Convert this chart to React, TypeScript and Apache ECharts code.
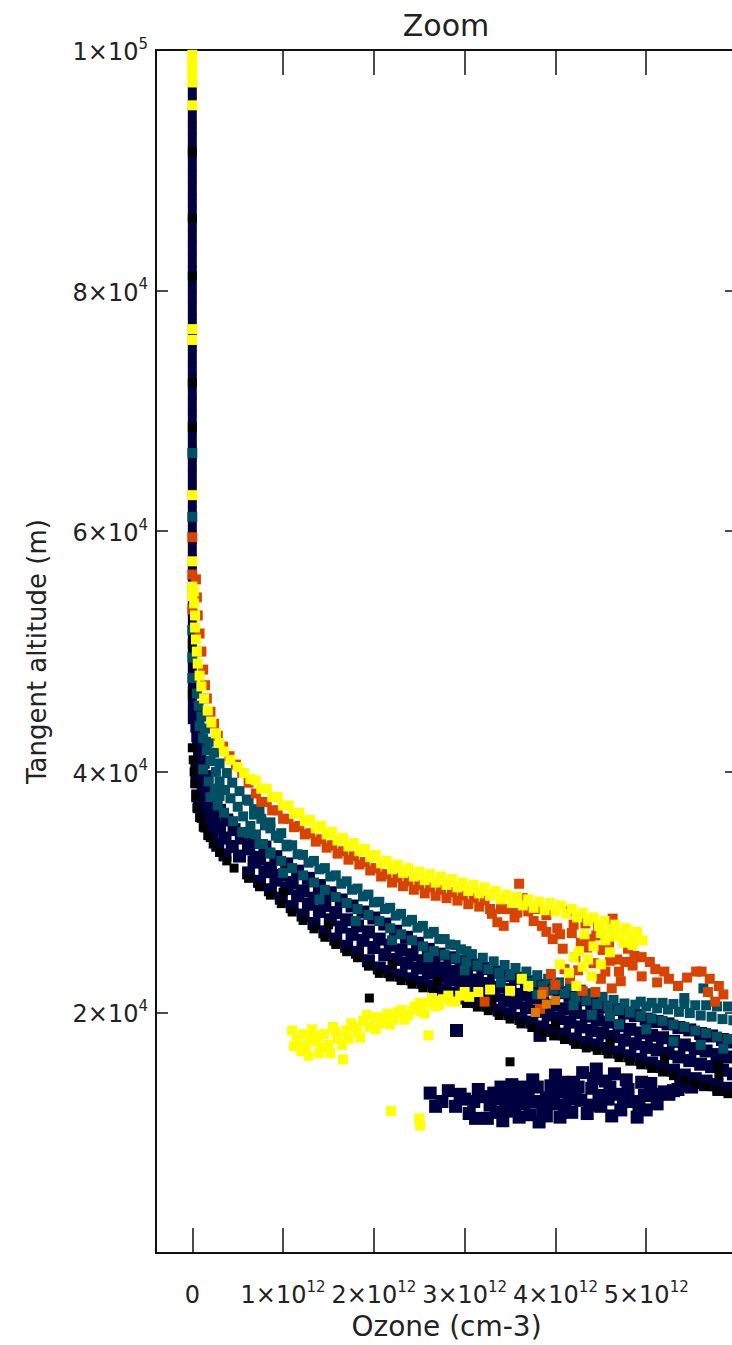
import React, { useEffect, useRef } from "react";
import * as echarts from "echarts";

// Units used in the arrays below: ozone in 1e12 cm-3, altitude in km.
const X_UNIT = 1e12;
const Y_UNIT = 1000;

const X_TICKS = [0, 1, 2, 3, 4, 5];
const Y_TICKS = [20, 40, 60, 80, 100];

// High-altitude part of the profiles (all near zero ozone)
const NAVY_COLUMN_KM = [44.5, 45.5, 46.5, 47.5, 48.5, 49.5, 50.5, 51.5, 52.5, 53.5, 54.5, 55.5, 56.5, 57.5, 58.5, 59.5, 60.5, 61.5, 62.5, 63.5, 64.5, 65.5, 66.5, 67.5, 68.5, 69.5, 70.5, 71.5, 72.5, 73.5, 74.5, 75.5, 76.5, 77.5, 78.5, 79.5, 80.5, 81.5, 82.5, 83.5, 84.5, 85.5, 86.5, 87.5, 88.5, 89.5, 90.5, 91.5, 92.5, 93.5, 94.5, 95.5, 96.5];

const NAVY: [number, number][] = [
  [0.04, 44.6], [0.05, 43.8], [0.06, 43.0], [0.07, 42.2], [0.1, 42.0], [0.08, 41.4], [0.12, 40.8], [0.05, 40.6], [0.1, 39.9], [0.16, 39.6], [0.05, 39.2], [0.12, 38.6], [0.2, 38.4], [0.06, 38.0], [0.15, 37.7], [0.25, 37.5], [0.08, 37.1], [0.18, 36.9], [0.3, 36.8], [0.12, 36.3], [0.24, 36.1], [0.38, 36.0], [0.16, 35.5], [0.3, 35.3], [0.46, 35.2], [0.22, 34.7], [0.36, 34.5], [0.54, 34.5], [0.28, 33.9], [0.44, 33.8], [0.62, 33.7], [0.36, 33.1], [0.52, 33.0], [0.7, 32.9],
  [0.62, 31.6], [0.68, 32.5], [0.62, 33.6], [0.68, 34.6],
  [0.74, 30.9], [0.8, 31.7], [0.74, 32.8], [0.8, 33.75],
  [0.86, 30.2], [0.92, 31.0], [0.86, 32.0], [0.92, 32.95],
  [0.98, 29.5], [1.04, 30.3], [0.98, 31.4], [1.04, 32.35],
  [1.1, 28.8], [1.16, 29.7], [1.1, 30.8], [1.16, 31.75],
  [1.22, 28.1], [1.28, 29.0], [1.22, 30.1], [1.28, 31.15],
  [1.34, 27.4], [1.4, 28.4], [1.34, 29.5], [1.4, 30.55],
  [1.46, 26.7], [1.52, 27.7], [1.46, 28.9], [1.52, 29.95],
  [1.58, 26.1], [1.64, 27.1], [1.58, 28.3], [1.64, 29.35],
  [1.7, 25.5], [1.76, 26.5], [1.7, 27.7], [1.76, 28.85],
  [1.82, 25.0], [1.88, 26.0], [1.82, 27.2], [1.88, 28.35],
  [1.94, 24.3], [2.0, 25.4], [1.94, 26.7], [2.0, 27.85],
  [2.06, 23.7], [2.12, 24.8], [2.06, 26.1], [2.12, 27.35],
  [2.18, 23.4], [2.24, 24.4], [2.18, 25.6], [2.24, 26.75],
  [2.3, 23.1], [2.36, 24.1], [2.3, 25.2], [2.36, 26.25],
  [2.42, 22.8], [2.48, 23.7], [2.42, 24.8], [2.48, 25.75],
  [2.54, 22.5], [2.6, 23.3], [2.54, 24.3], [2.6, 25.25],
  [2.66, 22.2], [2.72, 23.0], [2.66, 24.0], [2.72, 24.85],
  [2.78, 21.9], [2.84, 22.7], [2.78, 23.7], [2.84, 24.55],
  [2.9, 21.6], [2.96, 22.4], [2.9, 23.4], [2.96, 24.25],
  [3.02, 21.2], [3.08, 22.0], [3.02, 23.0], [3.08, 23.95],
  [3.14, 20.9], [3.2, 21.7], [3.14, 22.7], [3.2, 23.65],
  [3.26, 20.6], [3.32, 21.4], [3.26, 22.4], [3.32, 23.35],
  [3.38, 20.2], [3.44, 21.0], [3.38, 22.1], [3.44, 23.05],
  [3.5, 19.9], [3.56, 20.8], [3.5, 21.9], [3.56, 22.85],
  [3.62, 19.5], [3.68, 20.4], [3.62, 21.5], [3.68, 22.55],
  [3.74, 19.2], [3.8, 20.1], [3.74, 21.2], [3.8, 22.25],
  [3.86, 18.8], [3.92, 19.8], [3.86, 20.9], [3.92, 21.95],
  [3.98, 18.5], [4.04, 19.5], [3.98, 20.6], [4.04, 21.65],
  [4.1, 18.2], [4.16, 19.2], [4.1, 20.3], [4.16, 21.35],
  [4.22, 17.8], [4.28, 18.8], [4.22, 20.0], [4.28, 21.05],
  [4.34, 17.5], [4.4, 18.5], [4.34, 19.7], [4.4, 20.75],
  [4.46, 17.3], [4.52, 18.3], [4.46, 19.4], [4.52, 20.45],
  [4.58, 17.0], [4.64, 18.0], [4.58, 19.2], [4.64, 20.25],
  [4.7, 16.7], [4.76, 17.7], [4.7, 18.9], [4.76, 19.95],
  [4.82, 16.4], [4.88, 17.4], [4.82, 18.6], [4.88, 19.75],
  [4.94, 16.1], [5.0, 17.1], [4.94, 18.3], [5.0, 19.45],
  [5.06, 15.8], [5.12, 16.9], [5.06, 18.1], [5.12, 19.25],
  [5.18, 15.5], [5.24, 16.6], [5.18, 17.9], [5.24, 19.05],
  [5.3, 15.2], [5.36, 16.3], [5.3, 17.6], [5.36, 18.75],
  [5.42, 14.8], [5.48, 16.0], [5.42, 17.3], [5.48, 18.55],
  [5.54, 14.5], [5.6, 15.7], [5.54, 17.0], [5.6, 18.25],
  [5.66, 14.3], [5.72, 15.5], [5.66, 16.8], [5.72, 18.05],
  [5.78, 14.0], [5.84, 15.2], [5.78, 16.5], [5.84, 17.75],
  [5.9, 13.7], [5.96, 14.9], [5.9, 16.3], [5.96, 17.55],
  // lower cluster
  [2.62, 13.3], [2.75, 12.6], [2.9, 12.2], [2.95, 13.2], [3.05, 11.6], [3.1, 12.6], [3.15, 13.6], [3.25, 11.2], [3.28, 12.3], [3.32, 13.3], [3.42, 11.0], [3.45, 12.0], [3.5, 13.0], [3.52, 14.0], [3.6, 11.3], [3.65, 12.4], [3.7, 13.4], [3.75, 14.4], [3.82, 10.9], [3.86, 11.9], [3.9, 12.9], [3.95, 13.9], [4.0, 14.8], [4.05, 11.3], [4.1, 12.3], [4.15, 13.3], [4.2, 14.2], [4.28, 12.7], [4.3, 15.0], [4.35, 11.6], [4.4, 13.7], [4.45, 15.3], [4.5, 12.2], [4.55, 14.3], [4.62, 11.4], [4.68, 13.2], [4.72, 11.9], [4.78, 14.4], [4.85, 12.6], [4.9, 11.3], [4.98, 13.1], [5.05, 14.1], [5.12, 12.4], [5.2, 13.4], [5.3, 13.5], [5.38, 13.9], [5.5, 13.8], [5.65, 14.0], [5.8, 13.6],
  [2.68, 12.2], [2.82, 13.5], [3.0, 12.8], [3.12, 11.2], [3.2, 13.0], [3.35, 11.7], [3.38, 12.8], [3.4, 13.8], [3.55, 11.8], [3.58, 12.8], [3.62, 13.8], [3.72, 11.5], [3.78, 12.6], [3.8, 13.8], [3.9, 11.4], [3.98, 12.4], [4.02, 13.4], [4.08, 14.2], [4.18, 11.7], [4.22, 12.8], [4.25, 13.8], [4.38, 12.3], [4.42, 14.5], [4.48, 13.1], [4.58, 12.8], [4.6, 13.8], [4.65, 14.9], [4.75, 12.6], [4.8, 13.6], [4.92, 12.2], [4.95, 14.2], [5.0, 11.9], [5.08, 13.2], [5.25, 13.2], [5.35, 13.6], [5.45, 13.9], [5.6, 14.2], [5.75, 14.0],
  [2.91, 18.5], [3.83, 18.1]
];

const BLACK: [number, number][] = [
  [0.0, 42], [0.01, 41], [0.02, 40], [0.03, 39], [0.04, 38], [0.05, 37], [0.08, 36.2], [0.12, 35.4], [0.17, 34.7], [0.23, 34], [0.3, 33.3], [0.38, 32.6], [0.46, 32.0],
  [0.62, 31.15], [0.74, 30.45], [0.86, 29.75], [0.98, 29.05], [1.1, 28.35], [1.22, 27.65], [1.34, 26.95], [1.46, 26.25], [1.58, 25.65], [1.7, 25.05], [1.82, 24.55], [1.94, 23.85], [2.06, 23.25], [2.18, 22.95], [2.3, 22.65], [2.42, 22.35], [2.54, 22.05], [2.66, 21.75], [2.78, 21.45], [2.9, 21.15], [3.02, 20.75], [3.14, 20.45], [3.26, 20.15], [3.38, 19.75], [3.5, 19.45], [3.62, 19.05], [3.74, 18.75], [3.86, 18.35], [3.98, 18.05], [4.1, 17.75], [4.22, 17.35], [4.34, 17.05], [4.46, 16.85], [4.58, 16.55], [4.7, 16.25], [4.82, 15.95], [4.94, 15.65], [5.06, 15.35], [5.18, 15.05], [5.3, 14.75], [5.42, 14.35], [5.54, 14.05], [5.66, 13.85], [5.78, 13.55], [5.9, 13.25],
  [1.0, 30.0], [1.5, 27.3], [2.2, 24.0], [2.7, 22.6], [3.3, 21.0], [4.0, 19.0], [4.6, 17.6], [5.2, 16.2], [5.8, 15.6], [1.95, 21.2], [3.5, 15.9], [5.8, 14.8],
  [0, 91.5], [0, 86], [0, 81.2], [0, 72.4], [0, 68.6], [0, 50.6], [0, 46.5]
];

const TEAL: [number, number][] = [
  [0.05, 46.5], [0.07, 45.5], [0.1, 44.6], [0.08, 43.8], [0.14, 43.6], [0.12, 42.8], [0.18, 42.5], [0.16, 41.8], [0.24, 41.6], [0.2, 40.9], [0.3, 40.7], [0.26, 40.0], [0.38, 39.9], [0.3, 39.2], [0.44, 39.1], [0.36, 38.5], [0.52, 38.4], [0.42, 37.8], [0.6, 37.7], [0.5, 37.1], [0.68, 36.9], [0.56, 36.3], [0.76, 36.1], [0.64, 35.5], [0.86, 35.3], [0.7, 34.8], [0.95, 34.5], [0.78, 34.0], [1.04, 33.8], [0.86, 33.3],
  [0.2, 37.9], [0.25, 38.6], [0.28, 37.2], [0.3, 38.0], [0.35, 36.6], [0.45, 35.9], [0.55, 35.0], [0.18, 39.2], [0.12, 40.2],
  [0.62, 34.9], [0.68, 36.45], [0.62, 37.6],
  [0.74, 34.0], [0.8, 35.55], [0.74, 36.7],
  [0.86, 33.2], [0.92, 34.7], [0.86, 35.8],
  [0.98, 32.6], [1.04, 33.95], [0.98, 34.9],
  [1.1, 32.0], [1.16, 33.15], [1.1, 33.9],
  [1.22, 31.4], [1.28, 32.45], [1.22, 33.1],
  [1.34, 30.8], [1.4, 31.9], [1.34, 32.6],
  [1.46, 30.2], [1.52, 31.3], [1.46, 32.0],
  [1.58, 29.6], [1.64, 30.7], [1.58, 31.4],
  [1.7, 29.1], [1.76, 30.2], [1.7, 30.9],
  [1.82, 28.6], [1.88, 29.65], [1.82, 30.3],
  [1.94, 28.1], [2.0, 29.15], [1.94, 29.8],
  [2.06, 27.6], [2.12, 28.6], [2.06, 29.2],
  [2.18, 27.0], [2.24, 28.05], [2.18, 28.7],
  [2.3, 26.5], [2.36, 27.55], [2.3, 28.2],
  [2.42, 26.0], [2.48, 27.05], [2.42, 27.7],
  [2.54, 25.5], [2.6, 26.55], [2.54, 27.2],
  [2.66, 25.1], [2.72, 26.1], [2.66, 26.7],
  [2.78, 24.8], [2.84, 25.65], [2.78, 26.1],
  [2.9, 24.5], [2.96, 25.25], [2.9, 25.6],
  [3.02, 24.2], [3.08, 24.85], [3.02, 25.1],
  [3.14, 23.9], [3.2, 24.55], [3.26, 23.6], [3.32, 24.25], [3.38, 23.3], [3.44, 23.95], [3.5, 23.1], [3.56, 23.7], [3.62, 22.8], [3.68, 23.4], [3.74, 22.5], [3.8, 23.1], [3.86, 22.2], [3.92, 22.8], [3.98, 21.9], [4.04, 22.5], [4.1, 21.6], [4.16, 22.2], [4.22, 21.3], [4.28, 21.9], [4.34, 21.0], [4.4, 21.6], [4.46, 20.7], [4.52, 21.3], [4.58, 20.5], [4.64, 21.05], [4.7, 20.2], [4.76, 20.75], [4.82, 20.0], [4.88, 20.65],
  [4.94, 19.7], [5.0, 20.5], [4.94, 20.9],
  [5.06, 19.5], [5.12, 20.35], [5.06, 20.8],
  [5.18, 19.3], [5.24, 20.25], [5.18, 20.8],
  [5.3, 19.0], [5.36, 20.05], [5.3, 20.7],
  [5.42, 18.8], [5.48, 19.95], [5.42, 20.7],
  [5.54, 18.5], [5.6, 19.75], [5.54, 20.6],
  [5.66, 18.3], [5.72, 19.65], [5.66, 20.6],
  [5.78, 18.0], [5.84, 19.45], [5.78, 20.5],
  [5.9, 17.8], [5.96, 19.35], [5.9, 20.5],
  [5.0, 18.6], [5.3, 17.6], [5.6, 17.3], [5.85, 17.0], [4.7, 19.0], [4.4, 19.8], [5.63, 22.0], [5.42, 21.2],
  [1.0, 31.6], [1.4, 29.4], [1.8, 27.6], [2.2, 26.0], [2.6, 24.6], [3.0, 23.5], [3.4, 22.5], [3.8, 21.5], [4.2, 20.6], [4.6, 19.7],
  [0, 66.5], [0, 61.2], [0, 51.8], [0, 49.5], [0, 47.8]
];

const ORANGE: [number, number][] = [
  [0.04, 56], [0.05, 54.5], [0.06, 53], [0.08, 51.5], [0.1, 50], [0.12, 48.5], [0.14, 47.2], [0.16, 46.1], [0.2, 45.0], [0.24, 44.0], [0.28, 43.0], [0.34, 42.1], [0.41, 41.3], [0.48, 40.6], [0.55, 39.9], [0.62, 39.1],
  [0.7, 38.2], [0.76, 37.5], [0.82, 37.5], [0.88, 36.8], [0.94, 36.8], [1.0, 36.1], [1.06, 36.1], [1.12, 35.4], [1.18, 35.5], [1.24, 34.8], [1.3, 34.9], [1.36, 34.2], [1.42, 34.4], [1.48, 33.7], [1.54, 33.9], [1.6, 33.2], [1.66, 33.4], [1.72, 32.7], [1.78, 33.0], [1.84, 32.3], [1.9, 32.5], [1.96, 31.8], [2.02, 32.0], [2.08, 31.3], [2.14, 31.5], [2.2, 30.8], [2.26, 31.2], [2.32, 30.5], [2.38, 30.9], [2.44, 30.2], [2.5, 30.6], [2.56, 29.9], [2.62, 30.4], [2.68, 29.7], [2.74, 30.2], [2.8, 29.5], [2.86, 30.0], [2.92, 29.3], [2.98, 29.7], [3.04, 29.0], [3.1, 29.5], [3.16, 28.8], [3.22, 29.3], [3.28, 28.6],
  [3.3, 28.2], [3.36, 27.5], [3.43, 27.2], [3.5, 28.6], [3.55, 27.9], [3.6, 30.7], [3.64, 29.5], [3.7, 28.4], [3.76, 27.6], [3.85, 27.2], [3.9, 28.1], [3.97, 26.1], [4.02, 27.0], [4.08, 25.3], [4.13, 28.4], [4.18, 26.6], [4.22, 24.6], [4.28, 25.8], [4.33, 27.4], [4.38, 26.1], [4.42, 24.1], [4.47, 27.2], [4.52, 25.2], [4.55, 23.4], [4.59, 25.6], [4.63, 27.8], [4.68, 24.4], [4.72, 22.6], [4.77, 24.2], [4.85, 23.9], [4.87, 24.7], [4.95, 23.0], [5.04, 24.2], [5.12, 22.5], [5.2, 23.4], [5.35, 22.2], [5.55, 23.4], [5.61, 23.4], [5.68, 21.7], [5.7, 22.8], [5.76, 20.9], [5.85, 21.5], [3.87, 21.7], [3.83, 20.3], [4.0, 22.3], [4.16, 22.8], [4.3, 21.8], [4.44, 21.7], [3.22, 20.9], [4.1, 23.6], [3.95, 23.2],
  [3.4, 28.6], [3.58, 28.3], [3.8, 28.6], [3.9, 26.7], [4.05, 26.5], [4.2, 27.3], [4.35, 25.4], [4.45, 26.4], [4.6, 24.3], [4.7, 23.4], [4.8, 25.3], [4.95, 24.6], [5.1, 23.6], [5.25, 22.8], [5.45, 22.9], [5.8, 22.2], [4.25, 23.5], [4.5, 22.8], [4.62, 22.0],
  [0, 59.5], [0, 56.4], [0, 53.5]
];

const ORANGE_LIGHT: [number, number][] = [
  [3.85, 21.5], [3.9, 20.7], [4.0, 21.0], [3.78, 20.0]
];

const YELLOW: [number, number][] = [
  [0.02, 55], [0.02, 54], [0.03, 53], [0.03, 52], [0.04, 51], [0.05, 50], [0.06, 49], [0.08, 48], [0.1, 47.1], [0.13, 46.1], [0.17, 45.1], [0.21, 44.1], [0.26, 43.2], [0.3, 42.4], [0.35, 41.7], [0.42, 41.0], [0.5, 40.4], [0.57, 39.9], [0.64, 39.4],
  [0.7, 39.3], [0.76, 38.6], [0.82, 38.6], [0.88, 37.9], [0.94, 37.9], [1.0, 37.2], [1.06, 37.2], [1.12, 36.5], [1.18, 36.6], [1.24, 35.9], [1.3, 36.0], [1.36, 35.3], [1.42, 35.5], [1.48, 34.8], [1.54, 35.0], [1.6, 34.3], [1.66, 34.5], [1.72, 33.8], [1.78, 34.1], [1.84, 33.4], [1.9, 33.6], [1.96, 32.9], [2.02, 33.1], [2.08, 32.4], [2.14, 32.6], [2.2, 31.9], [2.26, 32.3], [2.32, 31.6], [2.38, 32.0], [2.44, 31.3], [2.5, 31.7], [2.56, 31.0], [2.62, 31.5], [2.68, 30.8], [2.74, 31.3], [2.8, 30.6], [2.86, 31.1], [2.92, 30.4], [2.98, 30.8], [3.04, 30.1], [3.1, 30.6], [3.16, 29.9], [3.22, 30.4], [3.28, 29.7], [3.34, 30.1], [3.4, 29.4], [3.46, 29.8], [3.52, 29.1], [3.58, 29.6], [3.64, 28.9], [3.7, 29.4], [3.76, 28.7], [3.82, 29.2], [3.88, 28.5], [3.94, 29.1], [4.0, 28.4], [4.06, 28.9], [4.12, 28.2], [4.18, 28.6], [4.24, 27.9], [4.3, 28.3], [4.36, 27.6], [4.42, 27.9], [4.48, 27.2], [4.54, 27.6], [4.6, 26.9], [4.66, 27.3], [4.72, 26.6], [4.78, 27.0], [4.84, 26.3], [4.9, 26.7], [4.96, 26.0],
  [4.05, 24.0], [4.15, 23.3], [4.2, 24.6], [4.26, 25.1], [4.3, 23.8], [4.36, 24.4], [4.42, 25.5], [4.5, 24.0], [4.55, 26.0], [4.6, 25.0], [4.65, 26.3], [4.4, 23.0], [4.23, 22.2], [3.63, 22.8], [3.7, 22.2], [3.5, 21.8], [4.75, 25.8], [4.85, 25.6], [4.32, 26.5], [4.5, 26.6],
  // lower branch
  [1.1, 18.5], [1.15, 17.7], [1.22, 18.2], [1.25, 17.2], [1.32, 18.6], [1.35, 17.6], [1.4, 16.6], [1.45, 18.2], [1.5, 17.3], [1.55, 18.8], [1.6, 17.8], [1.66, 16.1], [1.7, 18.5], [1.75, 19.1], [1.82, 18.4], [1.88, 19.3], [1.95, 18.8], [2.0, 19.6], [2.08, 19.1], [2.15, 19.9], [2.22, 19.4], [2.3, 20.2], [2.38, 19.8], [2.45, 20.5], [2.52, 20.1], [2.6, 20.8], [2.68, 20.5], [2.76, 21.1], [2.85, 20.9], [2.95, 21.4], [3.05, 21.3], [3.15, 21.7], [3.28, 21.9],
  [1.12, 17.2], [1.2, 16.8], [1.28, 16.4], [1.3, 17.8], [1.38, 18.0], [1.42, 17.1], [1.52, 16.6], [1.58, 18.4], [1.65, 17.3], [1.72, 17.8], [1.78, 18.8], [1.85, 17.9], [1.92, 19.8], [2.02, 18.6], [2.1, 19.6], [2.18, 19.0], [2.26, 20.0], [2.34, 19.4], [2.42, 20.2], [2.5, 20.8], [2.56, 19.9], [2.64, 21.2], [2.72, 20.6], [2.82, 21.4], [2.9, 20.9], [3.0, 21.7],
  [2.19, 11.8], [2.51, 10.6], [2.5, 11.2], [2.6, 18.1],
  [0, 99.6], [0, 98.8], [0, 98.0], [0, 97.3], [0, 95.4], [0, 76.8], [0, 75.9], [0, 63.0], [0, 57.5], [0, 55.4], [0, 54.6]
];

const FONT = "DejaVu Sans";
const TEXT_COLOR = "#222";

const toData = (pts: [number, number][]) => pts.map(([x, y]) => [x * X_UNIT, y * Y_UNIT]);

export default function App() {
  const ref = useRef<HTMLDivElement>(null);

  useEffect(() => {
    if (!ref.current) return;
    const chart = echarts.init(ref.current, undefined, { renderer: "svg" });

    const xTickValues = X_TICKS.map((v) => v * X_UNIT);
    const yTickValues = Y_TICKS.map((v) => v * Y_UNIT);

    const rich = {
      b: { fontSize: 24, fontFamily: FONT, color: TEXT_COLOR, lineHeight: 28, verticalAlign: "bottom" },
      s: { fontSize: 15, fontFamily: FONT, color: TEXT_COLOR, lineHeight: 15, verticalAlign: "top" },
    };

    const xFormatter = (v: number) => {
      if (v === 0) return "{b|0}";
      return `{b|${Math.round(v / X_UNIT)}×10}{s|12}`;
    };
    const yFormatter = (v: number) => {
      if (v >= 1e5) return "{b|1×10}{s|5}";
      return `{b|${Math.round(v / 1e4)}×10}{s|4}`;
    };

    const axisLine = { show: true, onZero: false, lineStyle: { color: "#111", width: 2 } };
    const tickStyle = { color: "#111", width: 1.5 };

    const scatter = (name: string, data: any[], color: string, size: any, z: number) => ({
      name,
      type: "scatter",
      data,
      symbol: "rect",
      symbolSize: size,
      itemStyle: { color, opacity: 1 },
      z,
      silent: true,
      emphasis: { disabled: true },
    });

    chart.setOption({
      animation: false,
      backgroundColor: "#fff",
      grid: { left: 156, right: 8, top: 50, bottom: 90, containLabel: false },
      graphic: [
        {
          type: "text",
          x: 446,
          y: 25,
          style: {
            text: "Zoom",
            font: `30px "${FONT}"`,
            fill: TEXT_COLOR,
            textAlign: "center",
            textVerticalAlign: "middle",
            align: "center",
            verticalAlign: "middle",
          },
        },
      ],
      xAxis: [
        {
          type: "value",
          position: "bottom",
          min: -0.4 * X_UNIT,
          max: 6 * X_UNIT,
          axisLine,
          axisTick: { show: true, inside: true, length: 25, customValues: xTickValues, lineStyle: tickStyle },
          axisLabel: { show: true, margin: 26, customValues: xTickValues, formatter: xFormatter, rich },
          splitLine: { show: false },
          name: "Ozone (cm-3)",
          nameLocation: "middle",
          nameGap: 56,
          nameTextStyle: { fontFamily: FONT, fontSize: 28, color: TEXT_COLOR },
        },
        {
          type: "value",
          position: "top",
          min: -0.4 * X_UNIT,
          max: 6 * X_UNIT,
          axisLine,
          axisTick: { show: true, inside: true, length: 25, customValues: xTickValues, lineStyle: tickStyle },
          axisLabel: { show: false },
          splitLine: { show: false },
        },
      ],
      yAxis: [
        {
          type: "value",
          position: "left",
          min: 0,
          max: 100 * Y_UNIT,
          axisLine,
          axisTick: { show: true, inside: true, length: 12, customValues: yTickValues, lineStyle: tickStyle },
          axisLabel: { show: true, margin: 8, customValues: yTickValues, formatter: yFormatter, rich },
          splitLine: { show: false },
          name: "Tangent altitude (m)",
          nameLocation: "middle",
          nameGap: 106,
          nameRotate: 90,
          nameTextStyle: { fontFamily: FONT, fontSize: 26, color: TEXT_COLOR },
        },
        {
          type: "value",
          position: "right",
          min: 0,
          max: 100 * Y_UNIT,
          axisLine,
          axisTick: { show: true, inside: true, length: 12, customValues: yTickValues, lineStyle: tickStyle },
          axisLabel: { show: false },
          splitLine: { show: false },
        },
      ],
      series: [
        scatter("column", NAVY_COLUMN_KM.map((km) => [0, km * Y_UNIT]), "#000040", [9, 13], 2),
        scatter("navy", toData(NAVY), "#000040", 13, 3),
        scatter("black", toData(BLACK), "#000000", 9, 4),
        scatter("teal", toData(TEAL), "#004F63", 10, 5),
        scatter("orange", toData(ORANGE), "#D84300", 10, 6),
        scatter("yellow", toData(YELLOW), "#FFFF00", 10, 7),
        scatter("orangeLight", toData(ORANGE_LIGHT), "#E07800", 9, 8),
      ],
    });

    return () => chart.dispose();
  }, []);

  return (
    <div style={{ position: "fixed", left: 0, top: 0, width: 732, height: 1345, overflow: "hidden", background: "#fff" }}>
      <div ref={ref} style={{ width: 745, height: 1345 }} />
    </div>
  );
}
